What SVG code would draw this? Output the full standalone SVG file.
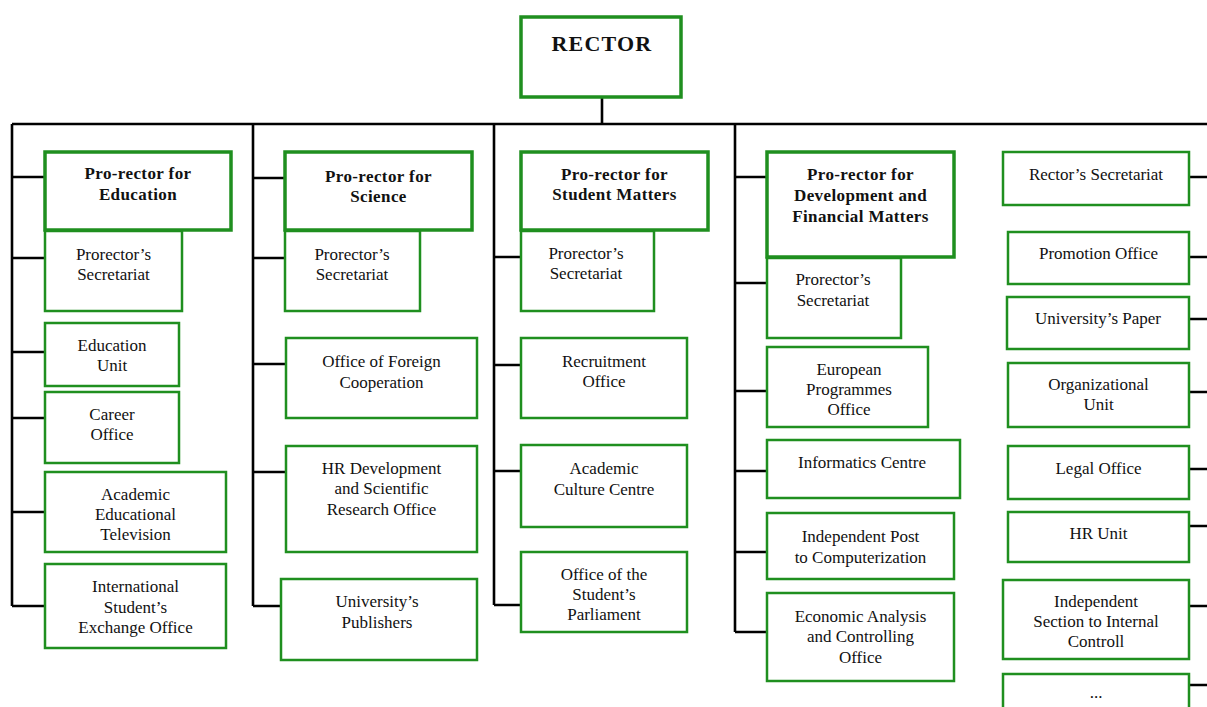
<svg xmlns="http://www.w3.org/2000/svg" width="1207" height="707" viewBox="0 0 1207 707">
<style>
.bx{fill:#fff;stroke:#1f8f1f;stroke-width:2.5}
.pr{fill:#fff;stroke:#1f8f1f;stroke-width:3.5}
.ln{fill:none;stroke:#000;stroke-width:2.6}
text{font-family:"Liberation Serif","Times New Roman",serif;font-size:17px;fill:#111;text-anchor:middle}
.b{font-weight:bold;letter-spacing:0.4px}
.r{font-weight:bold;font-size:22px;letter-spacing:1.2px}
</style>
<rect width="1207" height="707" fill="#fff"/>
<g id="connectors">
<path class="ln" d="M12 124H1207M602 98V124"/>
<path class="ln" d="M12 124V606M12 177H45M12 258H45M12 352H45M12 418H45M12 512H45M12 606H45"/>
<path class="ln" d="M253 124V606M253 178H285M253 258H285M253 364H286M253 472H286M253 606H281"/>
<path class="ln" d="M494 124V605M494 257H521M494 365H521M494 471H521M494 605H521"/>
<path class="ln" d="M735 124V632M735 177H767M735 283H767M735 391H767M735 471H767M735 552H767M735 632H767"/>
<path class="ln" d="M1189 177H1207M1189 257H1207M1189 319H1207M1189 392H1207M1189 469H1207M1189 526H1207M1189 606H1207M1189 685H1207"/>
</g>
<g id="rector"><rect class="pr" x="521" y="17" width="160" height="80"/><text class="r" x="602" y="51">RECTOR</text></g>

<g id="edu-sec"><rect class="bx" x="45" y="231" width="137" height="80"/><text x="113.5" y="260">Prorector’s</text><text x="113.5" y="280">Secretariat</text></g>
<g id="edu"><rect class="pr" x="45" y="152" width="186" height="78"/><text class="b" x="138" y="179">Pro-rector for</text><text class="b" x="138" y="200">Education</text></g>
<g id="edu-unit"><rect class="bx" x="45" y="323" width="134" height="63"/><text x="112" y="351">Education</text><text x="112" y="371">Unit</text></g>
<g id="career"><rect class="bx" x="45" y="392" width="134" height="71"/><text x="112" y="420">Career</text><text x="112" y="440">Office</text></g>
<g id="aet"><rect class="bx" x="45" y="472" width="181" height="80"/><text x="135.5" y="500">Academic</text><text x="135.5" y="520">Educational</text><text x="135.5" y="540">Television</text></g>
<g id="iseo"><rect class="bx" x="45" y="564" width="181" height="84"/><text x="135.5" y="592">International</text><text x="135.5" y="613">Student’s</text><text x="135.5" y="633">Exchange Office</text></g>

<g id="sci-sec"><rect class="bx" x="285" y="231" width="135" height="80"/><text x="352" y="260">Prorector’s</text><text x="352" y="280">Secretariat</text></g>
<g id="sci"><rect class="pr" x="285" y="152" width="187" height="78"/><text class="b" x="378.5" y="182">Pro-rector for</text><text class="b" x="378.5" y="202">Science</text></g>
<g id="foreign"><rect class="bx" x="286" y="338" width="191" height="80"/><text x="381.5" y="367">Office of Foreign</text><text x="381.5" y="388">Cooperation</text></g>
<g id="hrdev"><rect class="bx" x="286" y="446" width="191" height="106"/><text x="381.5" y="474">HR Development</text><text x="381.5" y="494">and Scientific</text><text x="381.5" y="515">Research Office</text></g>
<g id="publishers"><rect class="bx" x="281" y="579" width="196" height="81"/><text x="377" y="607">University’s</text><text x="377" y="628">Publishers</text></g>

<g id="stu-sec"><rect class="bx" x="521" y="231" width="133" height="80"/><text x="586" y="259">Prorector’s</text><text x="586" y="279">Secretariat</text></g>
<g id="stu"><rect class="pr" x="521" y="152" width="187" height="78"/><text class="b" x="614.5" y="180">Pro-rector for</text><text class="b" x="614.5" y="200">Student Matters</text></g>
<g id="recruit"><rect class="bx" x="521" y="338" width="166" height="80"/><text x="604" y="367">Recruitment</text><text x="604" y="387">Office</text></g>
<g id="culture"><rect class="bx" x="521" y="445" width="166" height="82"/><text x="604" y="474">Academic</text><text x="604" y="495">Culture Centre</text></g>
<g id="parliament"><rect class="bx" x="521" y="552" width="166" height="80"/><text x="604" y="580">Office of the</text><text x="604" y="600">Student’s</text><text x="604" y="620">Parliament</text></g>

<g id="dev-sec"><rect class="bx" x="767" y="258" width="134" height="80"/><text x="833" y="285">Prorector’s</text><text x="833" y="306">Secretariat</text></g>
<g id="dev"><rect class="pr" x="767" y="152" width="187" height="105"/><text class="b" x="860.5" y="180">Pro-rector for</text><text class="b" x="860.5" y="201">Development and</text><text class="b" x="860.5" y="222">Financial Matters</text></g>
<g id="european"><rect class="bx" x="767" y="347" width="161" height="80"/><text x="849" y="375">European</text><text x="849" y="395">Programmes</text><text x="849" y="415">Office</text></g>
<g id="informatics"><rect class="bx" x="767" y="440" width="193" height="58"/><text x="862" y="468">Informatics Centre</text></g>
<g id="indpost"><rect class="bx" x="767" y="513" width="187" height="66"/><text x="860.5" y="542">Independent Post</text><text x="860.5" y="563">to Computerization</text></g>
<g id="economic"><rect class="bx" x="767" y="593" width="187" height="88"/><text x="860.5" y="622">Economic Analysis</text><text x="860.5" y="642">and Controlling</text><text x="860.5" y="663">Office</text></g>

<g id="rector-sec"><rect class="bx" x="1003" y="152" width="186" height="53"/><text x="1096" y="180">Rector’s Secretariat</text></g>
<g id="promotion"><rect class="bx" x="1008" y="232" width="181" height="52"/><text x="1098.5" y="259">Promotion Office</text></g>
<g id="paper"><rect class="bx" x="1007" y="297" width="182" height="52"/><text x="1098" y="324">University’s Paper</text></g>
<g id="organizational"><rect class="bx" x="1008" y="363" width="181" height="64"/><text x="1098.5" y="390">Organizational</text><text x="1098.5" y="410">Unit</text></g>
<g id="legal"><rect class="bx" x="1008" y="446" width="181" height="53"/><text x="1098.5" y="474">Legal Office</text></g>
<g id="hrunit"><rect class="bx" x="1008" y="512" width="181" height="50"/><text x="1098.5" y="539">HR Unit</text></g>
<g id="internal"><rect class="bx" x="1003" y="580" width="186" height="79"/><text x="1096" y="607">Independent</text><text x="1096" y="627">Section to Internal</text><text x="1096" y="647">Controll</text></g>
<g id="more"><rect class="bx" x="1003" y="674" width="186" height="40"/><text x="1096" y="698">...</text></g>
</svg>
